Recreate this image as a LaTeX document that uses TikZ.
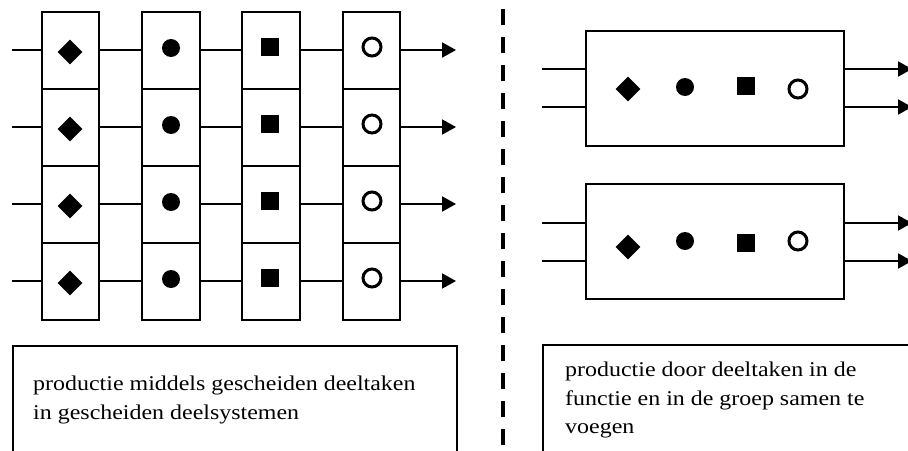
\documentclass[tikz,border=0pt]{standalone}
\usepackage{fontspec}
\setmainfont{Liberation Serif}
\usepackage{tikz}
\usetikzlibrary{shapes.geometric}
\usetikzlibrary{arrows.meta}
\tikzstyle{Cell}=[rectangle,draw,line width=2pt,minimum width=57.5pt,
minimum height=77pt,inner sep=0pt]
\tikzstyle{Block}=[rectangle,draw,line width=2pt,minimum width=258pt,
minimum height=115pt,inner sep=0pt]
\tikzstyle{Edge}=[draw,line width=2pt]
\tikzstyle{Arrow}=[Edge,-{Triangle[length=14pt,width=15pt]}]
\tikzstyle{Diam}=[diamond,fill,inner sep=0pt,minimum size=25pt]
\tikzstyle{Dot}=[circle,fill,inner sep=0pt,minimum size=18pt]
\tikzstyle{Sq}=[rectangle,fill,inner sep=0pt,minimum size=18pt]
\tikzstyle{Ring}=[circle,draw,line width=3pt,inner sep=0pt,minimum size=18pt]
\tikzstyle{Frame}=[draw,line width=1.3pt]
\tikzstyle{Divider}=[line width=4pt,dash pattern=on 16pt off 12pt]
\tikzstyle{Caption}=[anchor=base west,align=left,inner sep=0pt,
transform shape,font=\fontsize{21}{29}\selectfont]

\begin{document}
\begin{tikzpicture}[x=1pt,y=-1pt]
    \useasboundingbox(0,0)rectangle(908,450);
    % gescheiden deelsystemen
    \foreach \r/\y in {1/50,2/127,3/204,4/281}{
        \node[Cell](c\r1)at(70.5,\y){};
        \node[Cell](c\r2)at(171,\y){};
        \node[Cell](c\r3)at(271,\y){};
        \node[Cell](c\r4)at(371.5,\y){};
        \node[Diam](d\r)at(70,\y+2){};
        \node[Dot](p\r)at(171,\y-2){};
        \node[Sq](s\r)at(270,\y-3){};
        \node[Ring](o\r)at(372,\y-3){};
        \coordinate(in\r)at(12,\y);
        \coordinate(out\r)at(456,\y);
        \draw[Edge](in\r)--(c\r1);
        \draw[Edge](c\r1)--(c\r2);
        \draw[Edge](c\r2)--(c\r3);
        \draw[Edge](c\r3)--(c\r4);
        \draw[Arrow](c\r4)--(out\r);
    }
    % scheidingslijn
    \coordinate(top)at(502.5,9);
    \coordinate(bot)at(502.5,450);
    \draw[Divider](top)--(bot);
    % groepen
    \node[Block](blk1)at(715,88.5){};
    \node[Block](blk2)at(715,241.5){};
    \node[Diam](bd1)at(628,89){};
    \node[Dot](bp1)at(685,87){};
    \node[Sq](bs1)at(746,86){};
    \node[Ring](bo1)at(798,89){};
    \node[Diam](bd2)at(628,247){};
    \node[Dot](bp2)at(685,241){};
    \node[Sq](bs2)at(746,243){};
    \node[Ring](bo2)at(798,241){};
    \coordinate(i1)at(542,69);
    \coordinate(i2)at(542,107);
    \coordinate(i3)at(542,223);
    \coordinate(i4)at(542,261);
    \coordinate(u1)at(912,69);
    \coordinate(u2)at(912,107);
    \coordinate(u3)at(912,223);
    \coordinate(u4)at(912,261);
    \draw[Edge](i1)--(i1-|blk1.west);
    \draw[Edge](i2)--(i2-|blk1.west);
    \draw[Edge](i3)--(i3-|blk2.west);
    \draw[Edge](i4)--(i4-|blk2.west);
    \draw[Arrow](u1-|blk1.east)--(u1);
    \draw[Arrow](u2-|blk1.east)--(u2);
    \draw[Arrow](u3-|blk2.east)--(u3);
    \draw[Arrow](u4-|blk2.east)--(u4);
    % onderschriften
    \draw[Frame](13,346)rectangle(457,470);
    \draw[Frame](543,345)rectangle(930,470);
    \begin{scope}[shift={(33,390)},xscale=1.14]
        \node[Caption](capL1)at(0,0){productie middels gescheiden deeltaken};
        \node[Caption](capL2)at(0,29){in gescheiden deelsystemen};
    \end{scope}
    \begin{scope}[shift={(565,376)},xscale=1.14]
        \node[Caption](capR1)at(0,0){productie door deeltaken in de};
        \node[Caption](capR2)at(0,29){functie en in de groep samen te};
        \node[Caption](capR3)at(0,57){voegen};
    \end{scope}
\end{tikzpicture}
\end{document}
